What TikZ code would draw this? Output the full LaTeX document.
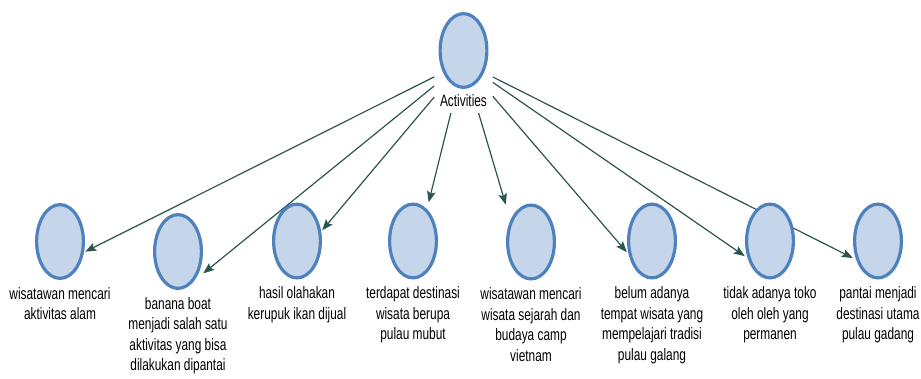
\documentclass[tikz,border=0pt]{standalone}
\usepackage{fontspec}
\newfontfamily\lblfont{Liberation Sans}[FakeStretch=0.72]
\usetikzlibrary{arrows.meta,fit,backgrounds}
\definecolor{circline}{RGB}{79,129,189}
\definecolor{circfill}{RGB}{197,214,234}
\definecolor{arrowcol}{RGB}{44,85,80}

\begin{document}
\begin{tikzpicture}[x=1pt, y=-1pt,
    circ/.style = {rectangle, minimum width=50pt, minimum height=77pt, inner sep=0pt,
        path picture={\draw[line width=3.2pt, draw=circline, fill=circfill]
            (path picture bounding box.center) ellipse [x radius=23.4pt, y radius=36.9pt];}},
    lbl/.style = {anchor=north, align=center, inner sep=7pt, font=\lblfont\fontsize{16.5}{20.5}\selectfont},
    edge/.style = {line width=1.2pt, draw=arrowcol, -{Stealth[length=11pt, width=8.5pt, inset=2pt]}}]
    \useasboundingbox (0,0) rectangle (921,378);

    % top node
    \node[circ] (top) at (463.5,50.5) {};
    \node[lbl, inner sep=5.5pt] (toplbl) at (top.south) {Activities};
    \node[fit=(top)(toplbl), inner sep=0pt] (act) {};

    % activity nodes
    \node[circ] (n1) at (60,241.5) {};
    \node[lbl] (l1) at (n1.south) {wisatawan mencari\\aktivitas alam};
    \node[circ] (n2) at (178,251.5) {};
    \node[lbl] (l2) at (n2.south) {banana boat\\menjadi salah satu\\aktivitas yang bisa\\dilakukan dipantai};
    \node[circ] (n3) at (297,241) {};
    \node[lbl] (l3) at (n3.south) {hasil olahakan\\kerupuk ikan dijual};
    \node[circ] (n4) at (413,241) {};
    \node[lbl] (l4) at (n4.south) {terdapat destinasi\\wisata berupa\\pulau mubut};
    \node[circ] (n5) at (531,242) {};
    \node[lbl] (l5) at (n5.south) {wisatawan mencari\\wisata sejarah dan\\budaya camp\\vietnam};
    \node[circ] (n6) at (652,241) {};
    \node[lbl] (l6) at (n6.south) {belum adanya\\tempat wisata yang\\mempelajari tradisi\\pulau galang};
    \node[circ] (n7) at (770,241) {};
    \node[lbl] (l7) at (n7.south) {tidak adanya toko\\oleh oleh yang\\permanen};
    \node[circ] (n8) at (878,241) {};
    \node[lbl] (l8) at (n8.south) {pantai menjadi\\destinasi utama\\pulau gadang};

    % arrows
    \begin{scope}[on background layer]
    \draw[edge] (act) -- (n1.-22);
    \draw[edge] (act) -- (n2.-41);
    \draw[edge] (act) -- (n3.23);
    \draw[edge] (act) -- (n4.68);
    \draw[edge] (act) -- (n5.124);
    \draw[edge] (act) -- (n6.204);
    \draw[edge] (act) -- (n7.211);
    \draw[edge] (act) -- (n8.214);
    \end{scope}

\end{tikzpicture}
\end{document}
